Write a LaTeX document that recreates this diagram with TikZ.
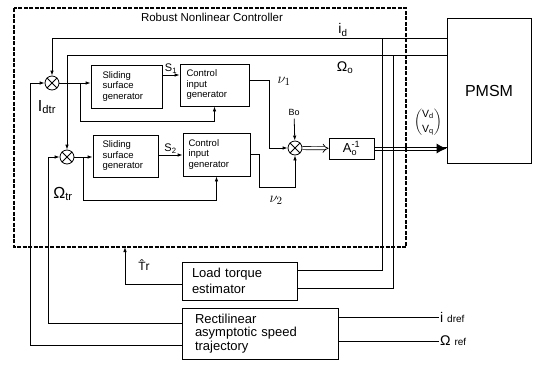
\documentclass[tikz,border=0pt]{standalone}
\usepackage{amsmath}
\usepackage{fontspec}
\setmainfont{Liberation Sans}
\usetikzlibrary{arrows.meta}

\tikzset{
  blk/.style={draw, line width=0.8pt, inner sep=0pt, align=left, font=\fontsize{9.5}{10.5}\selectfont},
  bigblk/.style={draw, line width=0.8pt, inner sep=0pt, align=left, font=\fontsize{13}{13.5}\selectfont},
  sumj/.style={draw, circle, line width=0.8pt, minimum size=14pt, inner sep=0pt},
  sig/.style={line width=0.8pt},
  vec/.style={line width=0.7pt, double, double distance=2.4pt},
  lbl/.style={font=\fontsize{14}{16}\selectfont, inner sep=1pt}
}

\begin{document}
\begin{tikzpicture}[x=1pt, y=-1pt, >={Latex[length=5pt,width=3.5pt]}]
    \useasboundingbox (0,0) rectangle (535,365);
    % controller frame
    \draw[line width=1.1pt, dash pattern=on 4pt off 1.5pt] (14,8) rectangle (406,247);
    \node[font=\fontsize{11.5}{13}\selectfont] (title) at (212,17) {Robust Nonlinear Controller};

    % blocks
    \node[blk, minimum width=71pt, minimum height=43pt, text width=48pt] (ss1) at (126.5,86.5) {Sliding\\surface\\generator};
    \node[blk, minimum width=69pt, minimum height=42pt, text width=56pt] (cig1) at (214.5,85) {Control\\input\\generator};
    \node[blk, minimum width=65pt, minimum height=42pt, text width=46pt] (ss2) at (125.5,156) {Sliding\\surface\\generator};
    \node[blk, minimum width=67pt, minimum height=43pt, text width=56pt] (cig2) at (216.5,154.5) {Control\\input\\generator};
    \node[draw, line width=0.8pt, minimum width=45pt, minimum height=21pt, inner sep=0pt, font=\fontsize{13}{14}\selectfont] (abox) at (351.5,148.5) {A$_{\text{o}}^{\text{-1}}$};
    \node[draw, line width=0.8pt, minimum width=84pt, minimum height=145pt, font=\fontsize{16}{18}\selectfont] (pmsm) at (489,90.5) {PMSM};
    \node[bigblk, minimum width=115pt, minimum height=38pt, text width=95pt, font=\fontsize{13}{16}\selectfont] (lte) at (239.5,281) {Load torque\\estimator};
    \node[bigblk, minimum width=156pt, minimum height=51pt, text width=130pt] (rat) at (260,333.5) {Rectilinear\\asymptotic speed\\trajectory};

    % summing junctions
    \node[sumj] (j1) at (52,83) {};
    \node[sumj] (j2) at (67,157) {};
    \node[sumj] (j3) at (295,148) {};
    \foreach \j in {j1,j2,j3} {
      \draw[sig] (\j.north west) -- (\j.south east) (\j.north east) -- (\j.south west);
    }

    % measured current and speed
    \coordinate (tapd) at (382,38);
    \coordinate (tapo) at (393,55);
    \draw[sig, ->] (pmsm.west |- tapd) -| (j1);
    \draw[sig, ->] (pmsm.west |- tapo) -| (j2);
    \draw[sig] (tapd) |- ([yshift=11pt]lte.east);
    \draw[sig] (tapo) |- ([yshift=-7pt]lte.east);
    \node[lbl] (lbld) at (343,30) {i$_{\text{d}}$};
    \node[lbl] (lblo) at (345,68) {Ω$_{\text{o}}$};

    % load torque estimate
    \coordinate (trin) at (125,247);
    \draw[sig, ->] ([yshift=-3pt]lte.west) -| (trin);
    \node[lbl, font=\fontsize{12}{14}\selectfont] (lbltr) at (144,265) {\^{T}r};

    % reference trajectories
    \draw[sig, ->] ([yshift=-11.5pt]rat.west) -| ([xshift=-14pt]j1.west) -- (j1);
    \draw[sig, ->] ([yshift=10.5pt]rat.west) -| ([xshift=-11pt]j2.west) -- (j2);
    \node[lbl, font=\fontsize{16}{18}\selectfont] (lbldtr) at (47,107) {I$_{\text{dtr}}$};
    \node[lbl, font=\fontsize{16}{18}\selectfont] (lbltr2) at (63,194) {Ω$_{\text{tr}}$};
    \node[lbl, anchor=west] (idref) at (439,317) {i {\fontsize{10}{12}\selectfont dref}};
    \node[lbl, anchor=west] (omref) at (439,341) {Ω {\fontsize{10}{12}\selectfont ref}};
    \draw[sig] (rat.east |- idref) -- (idref.west);
    \draw[sig] (rat.east |- omref) -- (omref.west);

    % current loop
    \draw[sig, ->] (j1) -- (ss1.west |- j1);
    \draw[sig, ->] ([xshift=21pt]j1.east) |- ([yshift=-15pt]cig1.south) -- (cig1.south);
    \draw[sig, ->] ([yshift=11.5pt]ss1.east) -- ([yshift=11.5pt]ss1.east -| cig1.west) node[midway, above, inner sep=1pt, font=\fontsize{11}{12}\selectfont] {S$_{\text{1}}$};
    \draw[sig, ->] ([yshift=5pt]cig1.east) -| ([xshift=-18pt]j3.west) -- (j3);
    \node[lbl, font=\fontsize{15}{17}\selectfont] (nu1) at (284,81) {$\nu_1$};

    % speed loop
    \draw[sig, ->] (j2) -- (ss2.west |- j2);
    \draw[sig, ->] ([xshift=9pt]j2.east) |- ([yshift=-24pt]cig2.south) -- (cig2.south);
    \draw[sig, ->] ([yshift=1pt]ss2.east) -- ([yshift=1pt]ss2.east -| cig2.west) node[midway, above, inner sep=1pt, font=\fontsize{11}{12}\selectfont] {S$_{\text{2}}$};
    \draw[sig, ->] (cig2.east) -- ++(9,0) |- ([yshift=-32pt]j3.south) -- (j3);
    \node[lbl, font=\fontsize{15}{17}\selectfont] (nu2) at (276,200) {$\nu_2$};

    % decoupling
    \node[font=\fontsize{9}{10}\selectfont] (bo) at (294,112) {Bo};
    \draw[sig, ->] (bo) -- (j3);
    \draw[vec, -{Implies}] (j3) -- (abox);
    \draw[sig] ([yshift=1.6pt]abox.east) -- ([yshift=1.6pt]abox.east -| pmsm.west);
    \draw[sig] ([yshift=-1.6pt]abox.east) -- ([xshift=-10pt,yshift=-1.6pt]abox.east -| pmsm.west);
    \draw[sig, -{Latex[length=10pt,width=10pt]}] ([xshift=-10pt]abox.east -| pmsm.west) -- (abox.east -| pmsm.west);
    \node[font=\fontsize{10.5}{12}\selectfont, inner sep=0pt] (lblv) at (428,122) {$\dbinom{\text{V}_{\text{d}}}{\text{V}_{\text{q}}}$};
\end{tikzpicture}
\end{document}
